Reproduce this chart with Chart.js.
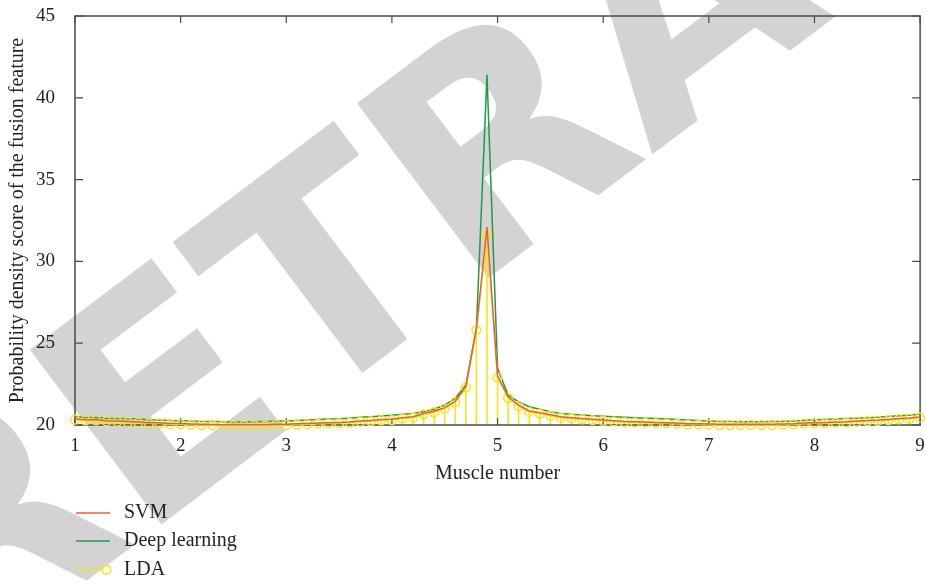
<!DOCTYPE html>
<html><head><meta charset="utf-8">
<script src="https://cdn.jsdelivr.net/npm/chart.js@4.4.1/dist/chart.umd.min.js"></script>
<style>html,body{margin:0;padding:0;background:#fff;}canvas{display:block;}</style>
</head><body>
<canvas id="c" width="926" height="586"></canvas>
<script>
const muscleNumber = [1.0,1.1,1.2,1.3,1.4,1.5,1.6,1.7,1.8,1.9,2.0,2.1,2.2,2.3,2.4,2.5,2.6,2.7,2.8,2.9,3.0,3.1,3.2,3.3,3.4,3.5,3.6,3.7,3.8,3.9,4.0,4.1,4.2,4.3,4.4,4.5,4.6,4.7,4.8,4.9,5.0,5.1,5.2,5.3,5.4,5.5,5.6,5.7,5.8,5.9,6.0,6.1,6.2,6.3,6.4,6.5,6.6,6.7,6.8,6.9,7.0,7.1,7.2,7.3,7.4,7.5,7.6,7.7,7.8,7.9,8.0,8.1,8.2,8.3,8.4,8.5,8.6,8.7,8.8,8.9,9.0];
const lda = [20.33,20.28,20.28,20.22,20.20,20.17,20.15,20.10,20.10,20.05,20.05,20.02,20.00,19.99,19.98,19.97,19.97,19.97,19.98,20.00,20.00,20.03,20.05,20.08,20.10,20.12,20.15,20.20,20.24,20.29,20.30,20.40,20.45,20.65,20.78,21.00,21.39,22.30,25.80,31.60,22.90,21.65,21.16,20.80,20.70,20.57,20.45,20.40,20.35,20.30,20.26,20.22,20.18,20.16,20.14,20.12,20.10,20.08,20.04,20.04,20.02,20.00,20.00,20.00,20.00,20.00,20.00,20.02,20.04,20.08,20.10,20.12,20.14,20.16,20.20,20.24,20.26,20.30,20.35,20.39,20.45];
const svm = [20.37,20.32,20.32,20.26,20.24,20.21,20.19,20.14,20.14,20.09,20.09,20.06,20.04,20.03,20.02,20.01,20.01,20.01,20.02,20.04,20.04,20.07,20.09,20.12,20.14,20.16,20.19,20.24,20.28,20.33,20.35,20.44,20.50,20.70,20.84,21.06,21.45,22.36,25.90,32.10,23.00,21.72,21.22,20.86,20.75,20.62,20.50,20.45,20.40,20.35,20.30,20.26,20.22,20.20,20.18,20.16,20.14,20.12,20.08,20.08,20.06,20.04,20.04,20.04,20.04,20.04,20.04,20.06,20.08,20.12,20.14,20.16,20.18,20.20,20.24,20.28,20.30,20.34,20.39,20.43,20.49];
const deepLearning = [20.50,20.47,20.46,20.42,20.40,20.38,20.36,20.32,20.31,20.27,20.26,20.24,20.22,20.21,20.20,20.19,20.19,20.20,20.21,20.23,20.25,20.28,20.30,20.33,20.36,20.38,20.42,20.47,20.51,20.55,20.59,20.65,20.71,20.81,20.96,21.22,21.63,22.45,25.90,41.40,23.46,21.83,21.42,21.12,20.96,20.81,20.71,20.65,20.61,20.57,20.53,20.50,20.47,20.44,20.42,20.40,20.37,20.34,20.30,20.27,20.24,20.22,20.21,20.20,20.20,20.20,20.21,20.22,20.25,20.28,20.32,20.34,20.36,20.39,20.42,20.45,20.48,20.52,20.56,20.60,20.65];
const xTicks = [1,2,3,4,5,6,7,8,9];
const yTicks = [20,25,30,35,40,45];
const seriesNames = ['SVM','Deep learning','LDA'];
const seriesColors = ['#ee5a3e','#1f9a4c','#f5e614'];
const xTitle = 'Muscle number';
const yTitle = 'Probability density score of the fusion feature';
const watermarkText = 'RETRACTED';

const SERIF = '"Liberation Serif", "DejaVu Serif", serif';
const TEXT = '#231f20';
const AXIS = '#4a4a4a';

function pts(arr){ return muscleNumber.map((x,i)=>({x:x,y:arr[i]})); }

const watermark = {
  id:'watermark',
  beforeDraw(chart){
    const ctx = chart.ctx;
    ctx.save();
    ctx.translate(-45, 680);
    ctx.rotate(-37*Math.PI/180);
    ctx.font = 'bold 300px "DejaVu Sans"';
    ctx.fillStyle = '#d3d3d3';
    ctx.textBaseline = 'alphabetic';
    ctx.fillText(watermarkText, 0, 0);
    ctx.restore();
  }
};

const frame = {
  id:'frame',
  beforeDatasetsDraw(chart){
    const {ctx, chartArea:a, scales:{x, y}} = chart;
    ctx.save();
    const meta = chart.getDatasetMeta(2);
    const base = y.getPixelForValue(20);
    ctx.strokeStyle = seriesColors[2];
    ctx.lineWidth = 1.6;
    meta.data.forEach(p=>{
      ctx.beginPath(); ctx.moveTo(p.x, base); ctx.lineTo(p.x, p.y); ctx.stroke();
    });
    ctx.strokeStyle = AXIS;
    ctx.lineWidth = 1.5;
    ctx.strokeRect(a.left, a.top, a.right-a.left, a.bottom-a.top);
    ctx.lineWidth = 1.2;
    xTicks.forEach(v=>{
      const px = x.getPixelForValue(v);
      ctx.beginPath();
      ctx.moveTo(px, a.bottom); ctx.lineTo(px, a.bottom-7);
      ctx.moveTo(px, a.top); ctx.lineTo(px, a.top+7);
      ctx.stroke();
    });
    yTicks.forEach(v=>{
      const py = y.getPixelForValue(v);
      ctx.beginPath();
      ctx.moveTo(a.left, py); ctx.lineTo(a.left+8, py);
      ctx.moveTo(a.right, py); ctx.lineTo(a.right-8, py);
      ctx.stroke();
    });
    ctx.restore();
  }
};

const legend = {
  id:'customLegend',
  afterDraw(chart){
    const ctx = chart.ctx;
    ctx.save();
    const rows = [513, 541, 570];
    ctx.font = '20px ' + SERIF;
    ctx.fillStyle = TEXT;
    ctx.textBaseline = 'middle';
    ctx.textAlign = 'left';
    seriesNames.forEach((n,i)=>{
      const yy = rows[i];
      ctx.strokeStyle = seriesColors[i];
      ctx.lineWidth = 1.6;
      ctx.beginPath(); ctx.moveTo(76, yy); ctx.lineTo(110, yy); ctx.stroke();
      if (i===2){
        ctx.fillStyle = '#fff';
        ctx.beginPath(); ctx.arc(106.5, yy, 4.2, 0, Math.PI*2); ctx.fill(); ctx.stroke();
        ctx.fillStyle = TEXT;
      }
      ctx.fillText(n, 124, yy);
    });
    ctx.restore();
  }
};

new Chart(document.getElementById('c'), {
  type:'line',
  data:{
    datasets:[
      {label:seriesNames[0], data:pts(svm), borderColor:seriesColors[0], borderWidth:1.5, pointRadius:0, tension:0, order:1, clip:false},
      {label:seriesNames[1], data:pts(deepLearning), borderColor:seriesColors[1], borderWidth:1.5, pointRadius:0, tension:0, order:3, clip:false},
      {label:seriesNames[2], data:pts(lda), borderColor:seriesColors[2], borderWidth:1.5, pointRadius:4.4, pointBorderWidth:1.5, pointBorderColor:seriesColors[2], pointBackgroundColor:'rgba(0,0,0,0)', pointStyle:'circle', tension:0, order:2, clip:false}
    ]
  },
  options:{
    responsive:false, animation:false, devicePixelRatio:1,
    layout:{padding:{left:0, right:5, top:16, bottom:0}},
    plugins:{legend:{display:false}, tooltip:{enabled:false}},
    scales:{
      x:{type:'linear', min:1, max:9,
        afterBuildTicks(s){ s.ticks = xTicks.map(v=>({value:v})); },
        afterFit(s){ s.height = 161; s.paddingLeft = 0; s.paddingRight = 0; },
        grid:{display:false}, border:{display:false},
        ticks:{font:{family:SERIF, size:19}, color:TEXT, padding:2, maxRotation:0},
        title:{display:true, text:xTitle, font:{family:SERIF, size:20}, color:TEXT, padding:{top:0, bottom:100}}
      },
      y:{type:'linear', min:20, max:45,
        afterBuildTicks(s){ s.ticks = yTicks.map(v=>({value:v})); },
        afterFit(s){ s.width = 75; s.paddingTop = 0; s.paddingBottom = 0; },
        grid:{display:false}, border:{display:false},
        ticks:{font:{family:SERIF, size:19}, color:TEXT, padding:12},
        title:{display:true, text:yTitle, font:{family:SERIF, size:20}, color:TEXT, padding:{top:6, bottom:0}}
      }
    }
  },
  plugins:[watermark, frame, legend]
});
</script>
</body></html>
